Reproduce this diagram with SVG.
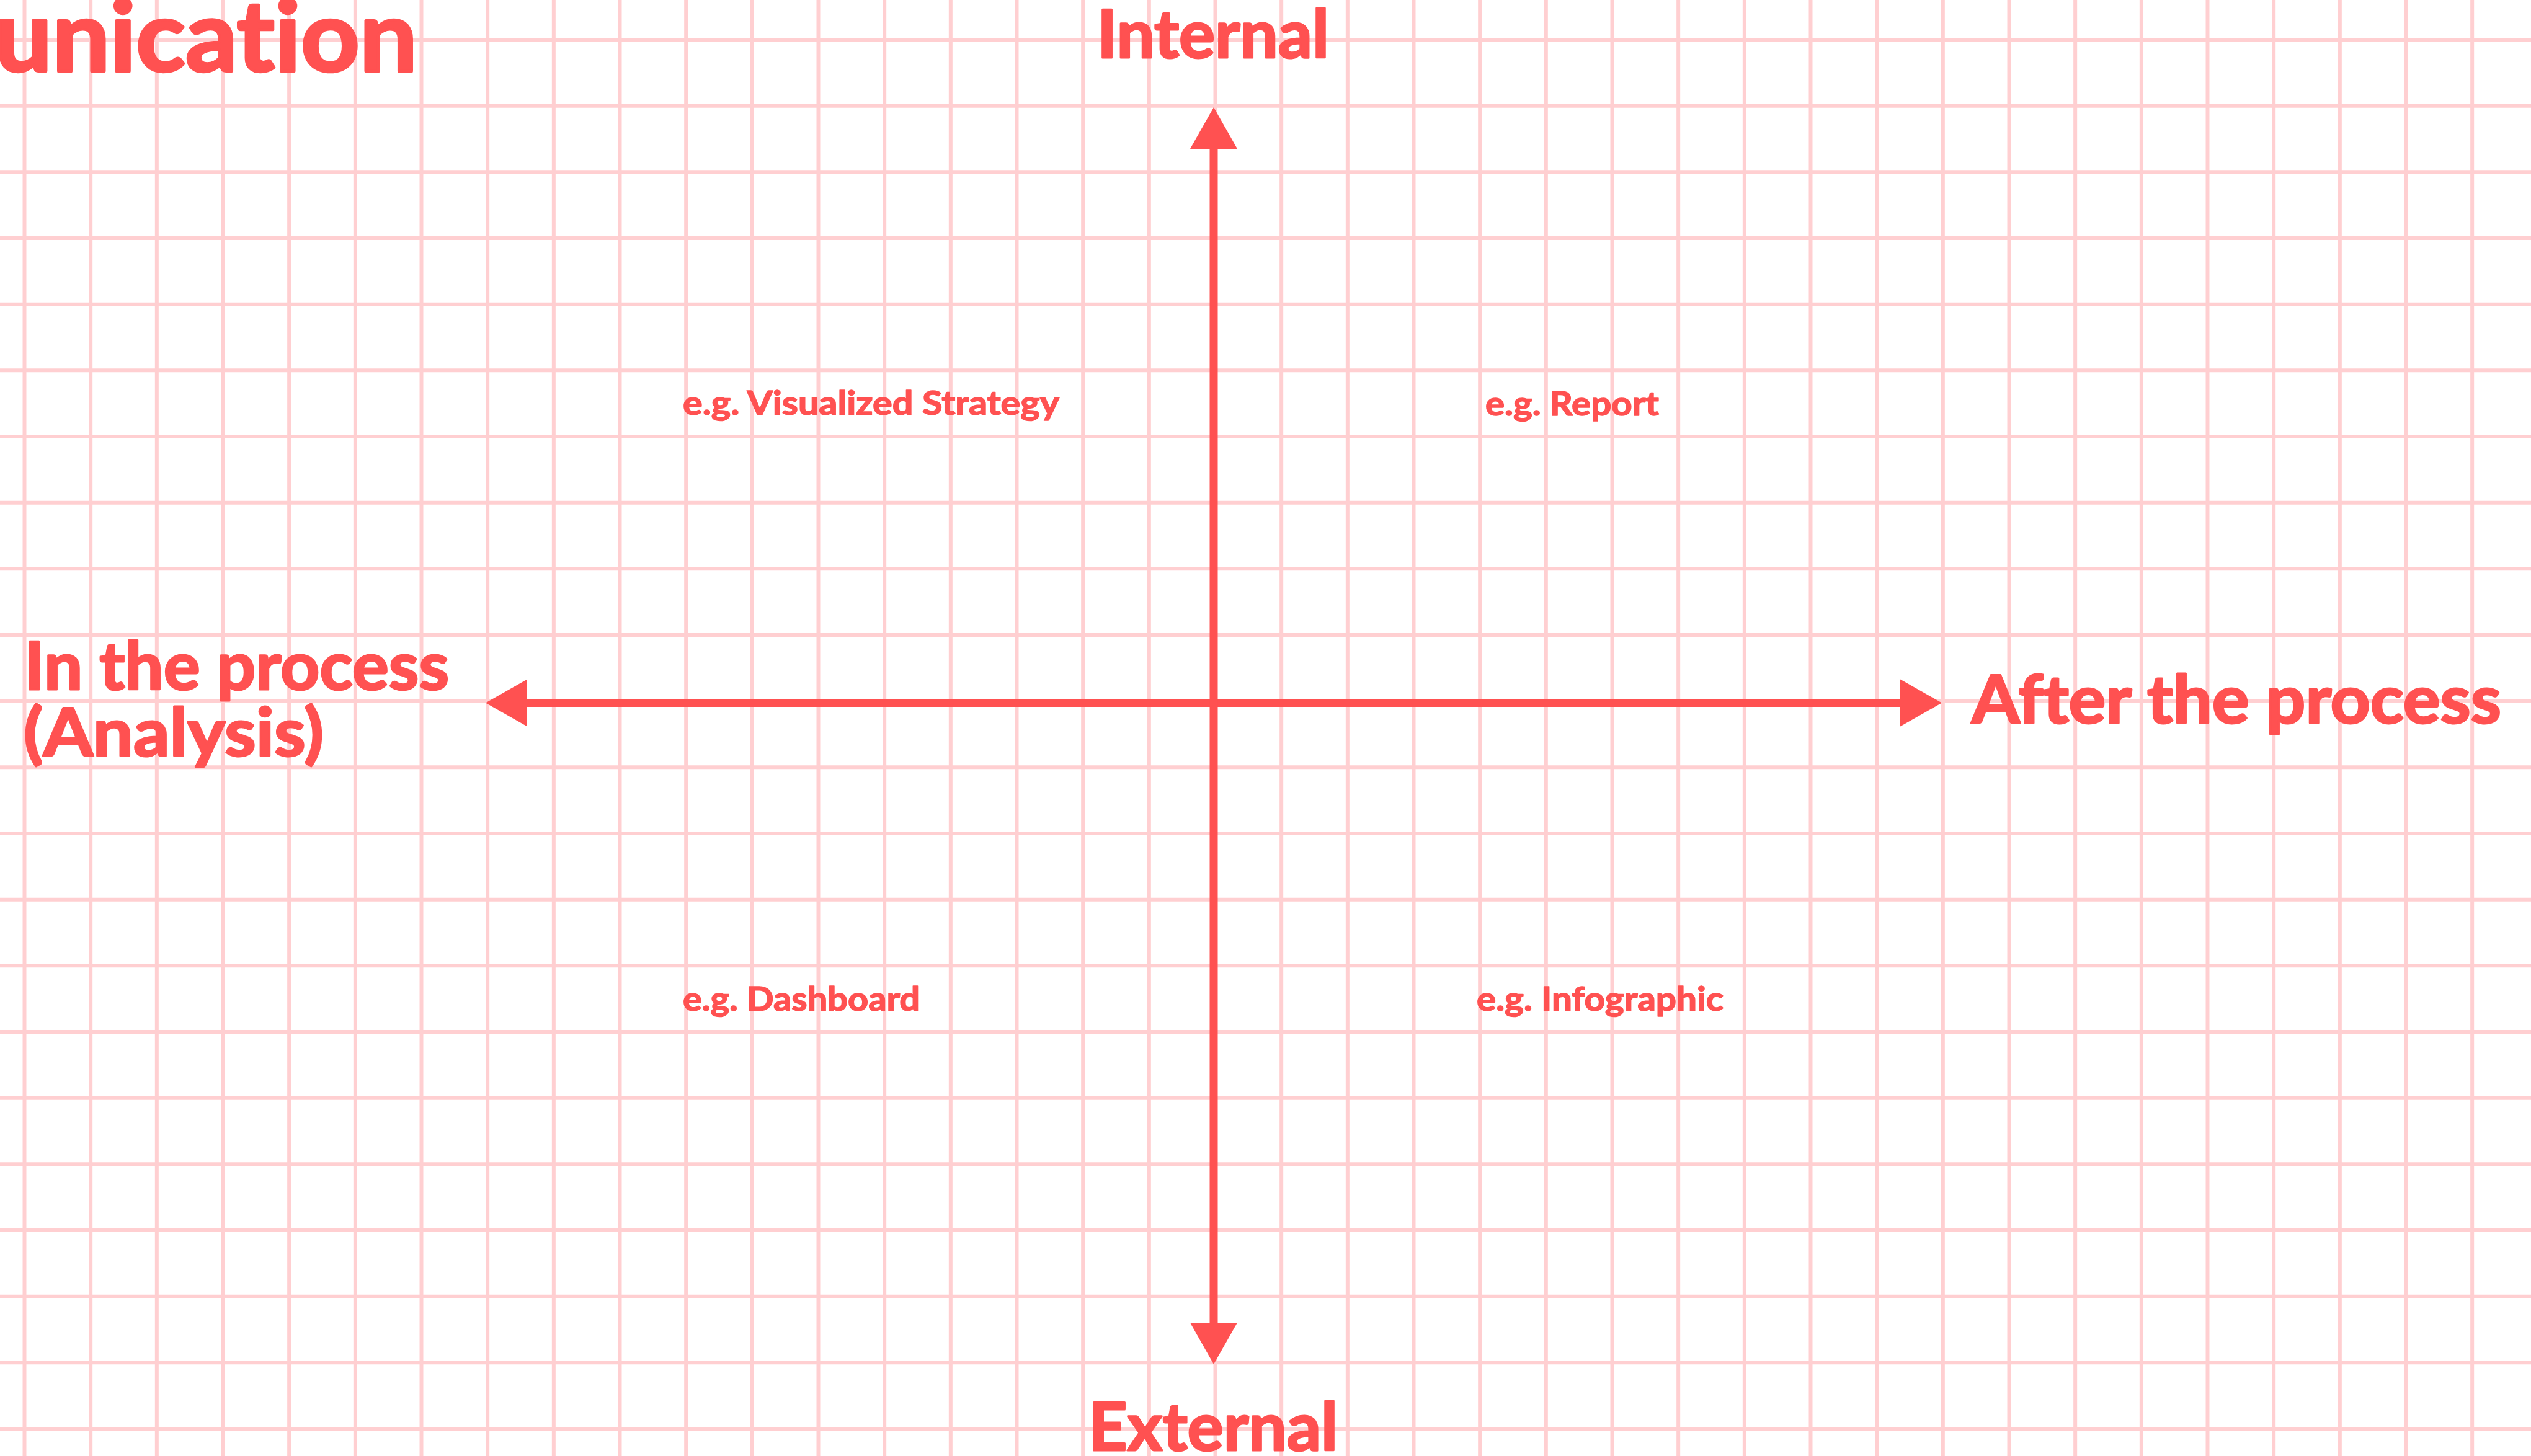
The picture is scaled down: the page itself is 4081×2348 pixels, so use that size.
<svg xmlns="http://www.w3.org/2000/svg" width="4081" height="2348" viewBox="0 0 4081 2348">
  <style>
    .grid { stroke: #FFCFD1; stroke-width: 6; fill: none; }
    .axis { stroke: #FF5151; stroke-width: 13; fill: none; }
    .lbl { fill: #FF5151; stroke: #FF5151; stroke-linejoin: round; font-family: Lato, "Liberation Sans", sans-serif; font-weight: 700; font-variant-ligatures: none; }
    .big { font-size: 107px; stroke-width: 3; }
    .small { font-size: 54px; stroke-width: 1.5; }
    .title { font-size: 160px; stroke-width: 4.5; }
  </style>
  <defs>
    <marker id="arrow" markerUnits="userSpaceOnUse" markerWidth="67" markerHeight="76" refX="0" refY="38" orient="auto-start-reverse" overflow="visible">
      <path d="M0,0 L67,38 L0,76 Z" fill="#FF5151"/>
    </marker>
  </defs>
  <rect x="0" y="0" width="4081" height="2348" fill="#FFFFFF"/>
  <g id="grid">
    <path class="grid" d="M39.5,0V2348 M146.17,0V2348 M252.83,0V2348 M359.5,0V2348 M466.17,0V2348 M572.83,0V2348 M679.5,0V2348 M786.17,0V2348 M892.83,0V2348 M999.5,0V2348 M1106.17,0V2348 M1212.83,0V2348 M1319.5,0V2348 M1426.17,0V2348 M1532.83,0V2348 M1639.5,0V2348 M1746.17,0V2348 M1852.83,0V2348 M1959.5,0V2348 M2066.17,0V2348 M2172.83,0V2348 M2279.5,0V2348 M2386.17,0V2348 M2492.83,0V2348 M2599.5,0V2348 M2706.17,0V2348 M2812.83,0V2348 M2919.5,0V2348 M3026.17,0V2348 M3132.83,0V2348 M3239.5,0V2348 M3346.17,0V2348 M3452.83,0V2348 M3559.5,0V2348 M3666.17,0V2348 M3772.83,0V2348 M3879.5,0V2348 M3986.17,0V2348"/>
    <path class="grid" d="M0,64H4081 M0,170.67H4081 M0,277.33H4081 M0,384H4081 M0,490.67H4081 M0,597.33H4081 M0,704H4081 M0,810.67H4081 M0,917.33H4081 M0,1024H4081 M0,1130.67H4081 M0,1237.33H4081 M0,1344H4081 M0,1450.67H4081 M0,1557.33H4081 M0,1664H4081 M0,1770.67H4081 M0,1877.33H4081 M0,1984H4081 M0,2090.67H4081 M0,2197.33H4081 M0,2304H4081"/>
  </g>
  <g id="connectors">
    <line id="axis-horizontal" class="axis" x1="850" y1="1133.5" x2="3064" y2="1133.5" marker-start="url(#arrow)" marker-end="url(#arrow)"/>
    <line id="axis-vertical" class="axis" x1="1957" y1="240" x2="1957" y2="2133" marker-start="url(#arrow)" marker-end="url(#arrow)"/>
  </g>
  <g id="title">
    <text class="lbl title" x="-9" y="115" textLength="682" lengthAdjust="spacingAndGlyphs">unication</text>
  </g>
  <g id="node-internal">
    <text class="lbl big" x="1769" y="93" textLength="374" lengthAdjust="spacingAndGlyphs">Internal</text>
  </g>
  <g id="node-external">
    <text class="lbl big" x="1755" y="2339" textLength="402" lengthAdjust="spacingAndGlyphs">External</text>
  </g>
  <g id="node-after">
    <text class="lbl big" x="3179" y="1166" textLength="854" lengthAdjust="spacingAndGlyphs">After the process</text>
  </g>
  <g id="node-in">
    <text class="lbl big" x="39" y="1112" textLength="685" lengthAdjust="spacingAndGlyphs">In the process</text>
    <text class="lbl big" x="38" y="1219" textLength="484" lengthAdjust="spacingAndGlyphs">(Analysis)</text>
  </g>
  <g id="node-strategy">
    <text class="lbl small" x="1101" y="669" textLength="607" lengthAdjust="spacingAndGlyphs">e.g. Visualized Strategy</text>
  </g>
  <g id="node-report">
    <text class="lbl small" x="2395" y="670" textLength="280" lengthAdjust="spacingAndGlyphs">e.g. Report</text>
  </g>
  <g id="node-dashboard">
    <text class="lbl small" x="1101" y="1630" textLength="382" lengthAdjust="spacingAndGlyphs">e.g. Dashboard</text>
  </g>
  <g id="node-infographic">
    <text class="lbl small" x="2381" y="1630" textLength="398" lengthAdjust="spacingAndGlyphs">e.g. Infographic</text>
  </g>
</svg>
